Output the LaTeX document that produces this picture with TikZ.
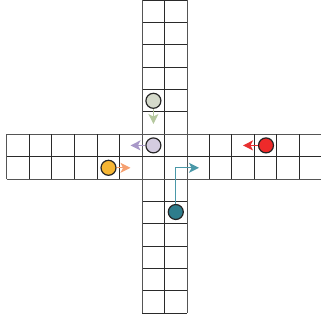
\documentclass[tikz,border=0pt]{standalone}
\usetikzlibrary{arrows.meta}
\definecolor{gline}{HTML}{2A2A2A}
\definecolor{gborder}{HTML}{555555}
\definecolor{sagefill}{HTML}{D5DACB}
\definecolor{sagearrow}{HTML}{B5C89E}
\definecolor{lavfill}{HTML}{D4CCE0}
\definecolor{lavarrow}{HTML}{A898C8}
\definecolor{orfill}{HTML}{F5B533}
\definecolor{orarrow}{HTML}{F5A070}
\definecolor{redfill}{HTML}{EE2A2A}
\definecolor{redarrow}{HTML}{E83030}
\definecolor{tealfill}{HTML}{2E7D8C}
\definecolor{tealarrow}{HTML}{4A98A8}
\tikzset{
  gridline/.style={draw=gline, line width=0.9pt},
  borderline/.style={draw=gborder, line width=1.2pt},
  token/.style={circle, draw=black!85, line width=1.2pt, minimum size=15pt, inner sep=0pt},
  move/.style={line width=1.3pt, -{Stealth[length=10pt,width=10pt,inset=2.5pt]}},
}
\begin{document}
\begin{tikzpicture}[x=1pt,y=-1pt]
\useasboundingbox (0,0) rectangle (320,320);
% vertical column
\foreach \k in {0,...,14} {
  \draw[gridline] (142.3,\k*22.38) -- (187.1,\k*22.38);
}
\draw[gridline] (164.7,0) -- (164.7,313.3);
\draw[borderline] (142.3,0) -- (142.3,313.3);
\draw[borderline] (187.1,0) -- (187.1,313.3);
% horizontal row
\draw[borderline] (6.7,134.3) -- (322,134.3);
\draw[gridline] (6.7,156.7) -- (322,156.7);
\draw[borderline] (6.7,179.1) -- (322,179.1);
\foreach \k in {0,...,5} {
  \draw[gridline] (6.7+\k*22.6,134.3) -- (6.7+\k*22.6,179.1);
}
\foreach \k in {1,...,6} {
  \draw[gridline] (187.1+\k*22.4,134.3) -- (187.1+\k*22.4,179.1);
}
\draw[borderline] (6.7,134.3) -- (6.7,179.1);
% tokens
\node[token, fill=sagefill] (sage) at (153.4,100.8) {};
\node[token, fill=lavfill] (lav) at (153.4,145.4) {};
\node[token, fill=orfill] (orange) at (108.5,167.8) {};
\node[token, fill=redfill] (red) at (266,145.4) {};
\node[token, fill=tealfill] (teal) at (175.8,212) {};
% arrow ends
\coordinate (sageT) at (153.4,124);
\coordinate (lavT) at (130.5,145.4);
\coordinate (orT) at (130.5,167.8);
\coordinate (redT) at (243,145.4);
\coordinate (tealB) at (175.8,167.8);
\coordinate (tealT) at (199,167.8);
% moves
\draw[move, draw=sagearrow] (sage) -- (sageT);
\draw[move, draw=lavarrow] (lav) -- (lavT);
\draw[move, draw=orarrow] (orange) -- (orT);
\draw[move, draw=redarrow] (red) -- (redT);
\draw[move, draw=tealarrow] (teal) -- (tealB) -- (tealT);
\end{tikzpicture}
\end{document}
